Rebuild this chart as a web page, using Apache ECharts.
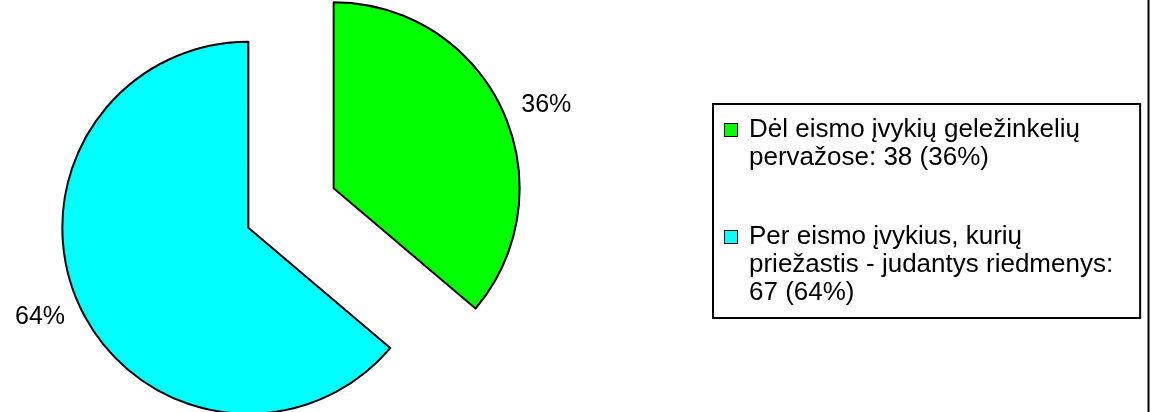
<!DOCTYPE html>
<html>
<head>
<meta charset="utf-8">
<script src="https://cdn.jsdelivr.net/npm/echarts@6/dist/echarts.min.js"></script>
<style>
  html, body { margin: 0; padding: 0; background: #fff; }
  #main { width: 1152px; height: 412px; }
</style>
</head>
<body>
<div id="main"></div>
<script>
// pie data
const categories = ['Dėl eismo įvykių geležinkelių pervažose', 'Per eismo įvykius, kurių priežastis - judantys riedmenys'];
const values = [38, 67];
const colors = ['#00ff00', '#00ffff'];
// legend text, wrapped as in the picture
const legendLines = [
    ['Dėl eismo įvykių geležinkelių', 'pervažose: 38 (36%)'],
    ['Per eismo įvykius, kurių', 'priežastis - judantys riedmenys:', '67 (64%)']
];

const font = '"Liberation Sans", Arial, sans-serif';

window.addEventListener('load', function () {
    let chart = echarts.init(document.getElementById('main'));

    let pieData = [];
    for (let i = 0; i < categories.length; i++) {
        pieData.push({
            name: categories[i],
            value: values[i],
            selected: true,
            itemStyle: { color: colors[i] }
        });
    }
    // the 64% label sits a bit lower than the slice ray
    pieData[1].labelLine = { length: 27, length2: -15 };

    let rich = {
        t: { fontSize: 26, lineHeight: 28, fontFamily: font, color: '#000' },
        gap: { width: 12, height: 13 },
        ind: { width: 24, height: 13 }
    };
    colors.forEach((c, i) => {
        rich['sq' + i] = { width: 12, height: 12, backgroundColor: c, borderColor: '#000', borderWidth: 1 };
    });

    let option = {
        backgroundColor: '#fff',
        animation: false,
        legend: {
            orient: 'vertical',
            left: 713,
            top: 104,
            padding: [12, 27, 11, 6],
            itemGap: 51,
            itemWidth: 0,
            itemHeight: 0,
            icon: 'rect',
            selectedMode: false,
            borderColor: '#000',
            borderWidth: 2,
            data: categories,
            textStyle: { fontSize: 26, lineHeight: 28, fontFamily: font, color: '#000', rich: rich },
            formatter: function (name) {
                let i = categories.indexOf(name);
                return legendLines[i].map((l, j) =>
                    (j === 0 ? '{sq' + i + '|}{gap|}' : '{ind|}') + '{t|' + l + '}'
                ).join('\n');
            }
        },
        graphic: [{
            type: 'line',
            shape: { x1: 1148.5, y1: 0, x2: 1148.5, y2: 412 },
            style: { stroke: '#000', lineWidth: 2 }
        }],
        series: [{
            type: 'pie',
            center: [291, 208],
            radius: 186,
            startAngle: 90,
            clockwise: true,
            selectedMode: 'multiple',
            selectedOffset: 47,
            avoidLabelOverlap: false,
            emphasis: { scale: false },
            itemStyle: { borderColor: '#000', borderWidth: 2 },
            select: { itemStyle: { borderColor: '#000', borderWidth: 2 } },
            label: {
                position: 'outside',
                fontSize: 25,
                fontFamily: font,
                color: '#000',
                formatter: function (p) { return Math.round(p.percent) + '%'; }
            },
            labelLine: { show: false, length: 12, length2: 3 },
            data: pieData
        }]
    };

    chart.setOption(option);
});
</script>
</body>
</html>
